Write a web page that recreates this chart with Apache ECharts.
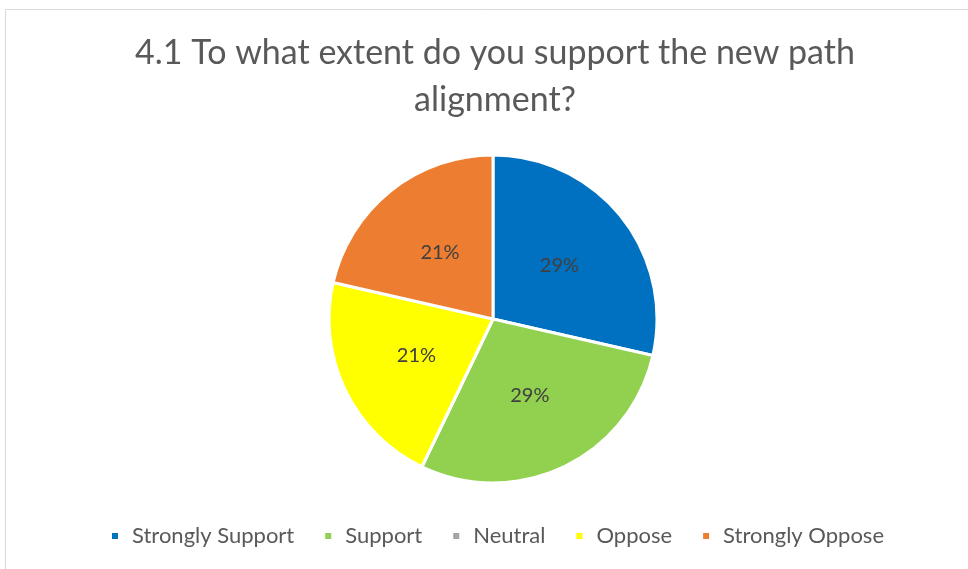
<!DOCTYPE html>
<html>
<head>
<meta charset="utf-8">
<script src="https://cdn.jsdelivr.net/npm/echarts@6/dist/echarts.min.js"></script>
<style>
  html, body { margin: 0; padding: 0; background: #ffffff; }
  #chart { width: 968px; height: 569px; }
</style>
</head>
<body>
<div id="chart"></div>
<script>
// Survey responses for question 4.1
const categories = ['Strongly Support', 'Support', 'Neutral', 'Oppose', 'Strongly Oppose'];
const responses = [4, 4, 0, 3, 3];
const sliceColors = ['#0070C0', '#92D050', '#A5A5A5', '#FFFF00', '#ED7D31'];

const chart = echarts.init(document.getElementById('chart'), null, { renderer: 'canvas' });

const pieData = categories.map((name, i) => ({
  name: name,
  value: responses[i],
  itemStyle: { color: sliceColors[i] }
}));

chart.setOption({
  animation: false,
  backgroundColor: '#ffffff',
  graphic: [{
    type: 'rect',
    shape: { x: 5.5, y: 9.5, width: 980, height: 580 },
    style: { fill: 'none', stroke: '#d9d9d9', lineWidth: 1 },
    silent: true
  }],
  title: {
    text: '4.1 To what extent do you support the new path\nalignment?',
    left: 490,
    textAlign: 'center',
    top: 25,
    textStyle: {
      fontFamily: 'Lato',
      fontSize: 34,
      fontWeight: 'normal',
      color: '#595959',
      lineHeight: 47
    }
  },
  legend: {
    bottom: 17,
    left: 105,
    itemWidth: 8,
    itemHeight: 8,
    itemGap: 29,
    icon: 'rect',
    selectedMode: false,
    textStyle: { fontFamily: 'Lato', fontSize: 22, color: '#595959', padding: [0, 0, 0, 8] },
    data: categories
  },
  series: [{
    type: 'pie',
    center: [493, 319],
    radius: [0, 164],
    startAngle: 90,
    clockwise: true,
    percentPrecision: 0,
    stillShowZeroSum: false,
    itemStyle: { borderColor: '#ffffff', borderWidth: 3 },
    label: {
      show: true,
      position: 'inside',
      fontFamily: 'Lato',
      fontSize: 20,
      color: '#404040',
      formatter: p => (p.value > 0 ? p.percent + '%' : '')
    },
    labelLine: { show: false },
    emphasis: { disabled: true },
    data: pieData
  }]
});
</script>
</body>
</html>
